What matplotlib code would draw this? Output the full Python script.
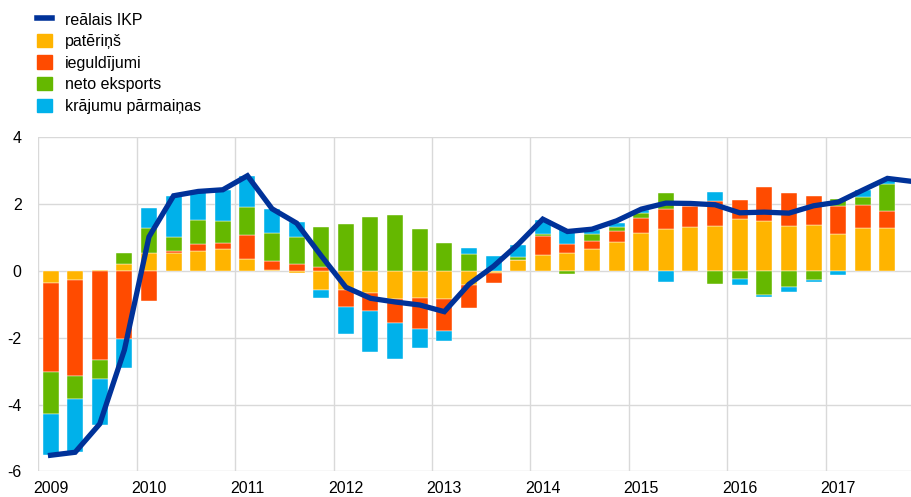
import numpy as np
import matplotlib
matplotlib.use('Agg')
import matplotlib.pyplot as plt
from matplotlib.patches import Patch
from matplotlib.lines import Line2D

# quarterly contributions, 2009Q1 .. 2017Q3 (bars), gdp line to 2017Q4
years = ['2009','2010','2011','2012','2013','2014','2015','2016','2017']

consumption = [-0.37,-0.27,0.02,0.20,0.53,0.53,0.61,0.67,0.36,0.04,-0.05,-0.58,
               -0.57,-0.65,-0.84,-0.82,-0.85,-0.42,-0.07,0.33,0.48,0.55,0.66,0.87,
               1.15,1.26,1.32,1.33,1.56,1.48,1.35,1.38,1.11,1.27,1.29]
investment  = [-2.65,-2.87,-2.68,-2.04,-0.89,0.07,0.20,0.18,0.71,0.26,0.22,0.13,
               -0.50,-0.55,-0.73,-0.91,-0.95,-0.68,-0.30,0.0,0.57,0.25,0.25,0.33,
               0.43,0.59,0.63,0.75,0.57,1.04,0.98,0.87,0.84,0.69,0.50]
netexports  = [-1.25,-0.70,-0.56,0.33,0.75,0.41,0.72,0.63,0.84,0.84,0.79,1.17,
               1.40,1.61,1.68,1.26,0.85,0.50,0.0,0.08,0.06,-0.10,0.19,0.10,
               0.15,0.48,0.0,-0.38,-0.25,-0.73,-0.49,-0.27,0.21,0.25,0.80]
inventories = [-1.25,-1.57,-1.37,-0.86,0.60,1.24,0.85,0.95,0.94,0.72,0.45,-0.24,
               -0.82,-1.22,-1.08,-0.59,-0.29,0.18,0.45,0.37,0.42,0.45,0.13,0.12,
               0.10,-0.32,0.0,0.28,-0.17,-0.04,-0.13,-0.06,-0.12,0.22,0.13]
gdp = [-5.52,-5.43,-4.58,-2.37,1.02,2.25,2.38,2.43,2.85,1.86,1.43,0.45,
       -0.49,-0.82,-0.93,-1.02,-1.22,-0.40,0.14,0.80,1.55,1.18,1.25,1.50,
       1.85,2.03,2.02,1.98,1.74,1.76,1.73,1.95,2.06,2.42,2.77,2.68]

names = ['patēriņš','ieguldījumi','neto eksports','krājumu pārmaiņas']
colors = ['#FFB400','#FF4B00','#65B800','#00B1EA']
navy = '#003299'

plt.rcParams['font.family'] = ['Liberation Sans','DejaVu Sans']
plt.rcParams['font.size'] = 11.5
plt.rcParams['axes.unicode_minus'] = False

fig = plt.figure(figsize=(9.12,4.97), dpi=100)
ax = fig.add_axes([0.0419,0.0517,0.9581,0.672])

x = np.arange(len(consumption))
pos = np.zeros(len(x))
neg = np.zeros(len(x))
for vals, c in zip([consumption,investment,netexports,inventories], colors):
   v = np.array(vals)
   b = np.where(v >= 0, pos, neg)
   ax.bar(x, v, 0.65, bottom=b, color=c, edgecolor='white', linewidth=0.3, zorder=2)
   pos = pos + np.where(v >= 0, v, 0)
   neg = neg + np.where(v < 0, v, 0)

ax.plot(np.arange(len(gdp)), gdp, color=navy, lw=3.8, zorder=3, solid_joinstyle='miter')

ax.set_xlim(-0.5, 35.0)
ax.set_ylim(-6, 4)
ax.set_yticks(np.arange(-6,5,2))
ax.set_xticks(np.arange(0,36,4))
ax.set_xticklabels(years)
ax.set_xticks(np.arange(-0.5,35,4), minor=True)
ax.grid(True, which='minor', axis='x', color='#d9d9d9', lw=1, zorder=0)
ax.grid(True, which='major', axis='y', color='#d9d9d9', lw=1, zorder=0)
ax.tick_params(which='both', length=0)
ax.tick_params(axis='y', pad=12)
ax.tick_params(axis='x', pad=7)
for s in ax.spines.values():
   s.set_visible(False)

handles = [Line2D([0],[0], color=navy, lw=4)] + [Patch(color=c) for c in colors]
labels = ['reālais IKP'] + names
fig.legend(handles, labels, loc='upper left', bbox_to_anchor=(0.041, 0.975),
           frameon=False, borderpad=0, borderaxespad=0, handlelength=0.9,
           handleheight=0.9, handletextpad=0.8, labelspacing=0.4)

plt.savefig('out.png', dpi=100)
